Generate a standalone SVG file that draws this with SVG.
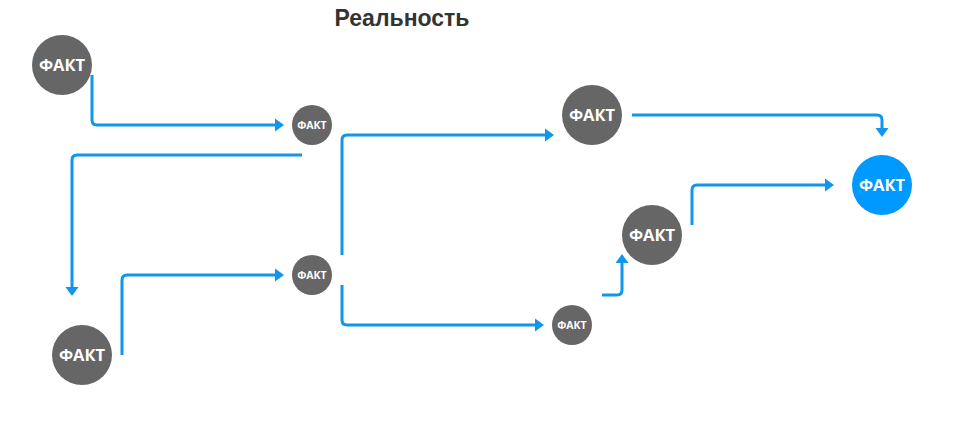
<svg xmlns="http://www.w3.org/2000/svg" width="962" height="438" viewBox="0 0 962 438">
<defs>
<marker id="arr" markerUnits="userSpaceOnUse" markerWidth="10" markerHeight="16" refX="0" refY="8" orient="auto">
<path d="M0,1.5 L9,8 L0,14.5 z" fill="#1196ee"/>
</marker>
<style>
.c{fill:none;stroke:#1196ee;stroke-width:3;marker-end:url(#arr)}
.n{fill:#666666}
.b{fill:#0099ff}
.t{font-family:"Open Sans","DejaVu Sans",sans-serif;font-weight:bold;fill:#ffffff;text-anchor:middle}
.big{font-size:16.5px}
.sm{font-size:10.5px}
.title{font-family:"Liberation Sans",Arial,sans-serif;font-weight:bold;font-size:23px;fill:#333333;text-anchor:middle}
</style>
</defs>
<rect width="962" height="438" fill="#ffffff"/>
<text class="title" x="402" y="26">Реальность</text>
<g id="connectors">
<path class="c" d="M92,75 V120 Q92,125 97,125 H275"/>
<path class="c" d="M302,155 H77 Q72,155 72,160 V287"/>
<path class="c" d="M122,355 V280 Q122,275 127,275 H275"/>
<path class="c" d="M342,255 V140 Q342,135 347,135 H545"/>
<path class="c" d="M342,285 V320 Q342,325 347,325 H535"/>
<path class="c" d="M602,295 H617 Q622,295 622,290 V263"/>
<path class="c" d="M632,115 H877 Q882,115 882,120 V128"/>
<path class="c" d="M692,225 V190 Q692,185 697,185 H825"/>
</g>
<g id="n1"><circle class="n" cx="62" cy="65" r="30"/><text class="t big" x="62" y="71">ФАКТ</text></g>
<g id="n2"><circle class="n" cx="312" cy="125" r="20"/><text class="t sm" x="312" y="129">ФАКТ</text></g>
<g id="n3"><circle class="n" cx="82" cy="355" r="30"/><text class="t big" x="82" y="361">ФАКТ</text></g>
<g id="n4"><circle class="n" cx="312" cy="275" r="20"/><text class="t sm" x="312" y="279">ФАКТ</text></g>
<g id="n5"><circle class="n" cx="592" cy="115" r="30"/><text class="t big" x="592" y="121">ФАКТ</text></g>
<g id="n6"><circle class="n" cx="572" cy="325" r="20"/><text class="t sm" x="572" y="329">ФАКТ</text></g>
<g id="n7"><circle class="n" cx="652" cy="235" r="30"/><text class="t big" x="652" y="241">ФАКТ</text></g>
<g id="n8"><circle class="b" cx="882" cy="185" r="30"/><text class="t big" x="882" y="191">ФАКТ</text></g>
</svg>
